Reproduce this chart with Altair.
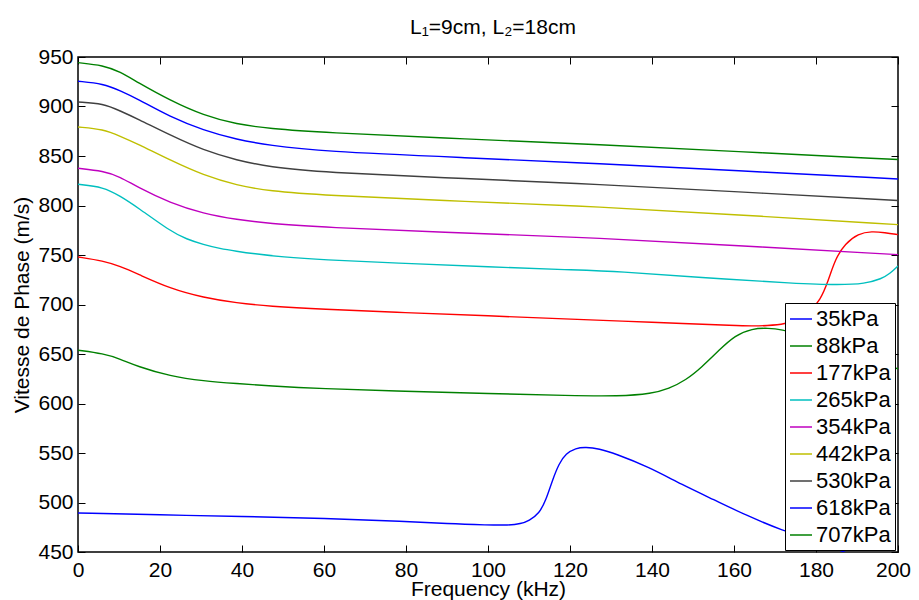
import altair as alt
import pandas as pd

FONT = "Liberation Sans, Arial, Helvetica, sans-serif"

series_names = ["35kPa", "88kPa", "177kPa", "265kPa", "354kPa", "442kPa", "530kPa", "618kPa", "707kPa"]
series_colors = ["#0000FF", "#008000", "#FF0000", "#00BFBF", "#BF00BF", "#BFBF00", "#404040", "#0000FF", "#008000"]

f_35 = [0, 20, 40, 60, 80, 90, 100, 105, 108, 110, 112.5, 114.1, 115.7, 117.3, 119, 121.4, 123.8, 127.1, 131, 139.2, 147.3, 155, 163, 171.6, 180, 185, 190]
v_35 = [489.4, 487.5, 486, 484, 481, 478.5, 477.3, 477, 478.5, 481.5, 489, 502, 522.4, 539.3, 549.4, 555, 556, 554.4, 549.4, 536, 518, 503, 487, 472, 461, 453, 445]

f_88 = [0, 6.2, 10.3, 14.4, 22.5, 30.6, 38.7, 46.8, 59, 80, 100, 120, 132, 140, 144.1, 148.2, 152.2, 156.3, 160.3, 164.4, 168.4, 171.7, 176, 180, 185, 190, 195, 200]
v_88 = [653.8, 650.4, 645, 637.6, 627.5, 622.7, 620.1, 617.7, 615, 612.3, 610.1, 607.9, 607.3, 610, 615, 623.4, 636.9, 653.7, 668.9, 675.7, 676.3, 674.6, 670, 664, 656, 648, 641, 635]

f_177 = [0, 6.2, 10.3, 14.4, 22.5, 30.6, 38.7, 46.8, 59, 80, 100, 120, 132, 148.2, 160, 164.4, 168, 172.5, 176, 178.5, 181, 183, 184.7, 187.1, 190.3, 193.6, 196.8, 200]
v_177 = [748, 744, 738.5, 731.2, 716, 707, 701.5, 698.2, 695.2, 691.8, 688.6, 685.3, 683.3, 680.7, 678.8, 678.3, 678.6, 680, 686, 693, 704, 724, 746, 761.5, 771.6, 774, 772.6, 770.6]

f_265 = [0, 6.2, 10.3, 14.4, 22.5, 26.5, 30.6, 34.6, 38.7, 42.7, 50, 59, 80, 100, 120, 132, 151.4, 175.7, 185.5, 192, 196, 198, 200]
v_265 = [821.4, 818.7, 809.5, 798.5, 774, 766, 760.5, 756.5, 753.8, 751.4, 748, 745.2, 741.5, 738, 735, 733.5, 727.2, 721.1, 719.7, 721, 726, 731, 739]

f_std = [0, 6.2, 10.3, 14.4, 22.5, 30.6, 38.7, 46.8, 59, 95, 127.1, 160, 200]
v_354 = [837.6, 834.8, 829, 818.7, 802.5, 791.8, 785.8, 781.7, 778.0, 772.1, 767.2, 759.6, 750.4]
v_442 = [879.3, 877, 870, 862.5, 845.7, 830.5, 820.4, 814.6, 810.5, 804, 798.8, 790.8, 780.7]
v_530 = [904.5, 903, 895.5, 887.8, 871, 855.8, 845.7, 838.9, 833.6, 827.1, 821.4, 814, 805]
v_618 = [925.5, 923, 916, 908, 889.4, 876, 866.6, 860.8, 854.7, 848.2, 842.3, 835.3, 826.8]
v_707 = [944.3, 941.6, 935, 924.7, 906, 891, 882, 877.7, 873.8, 867.1, 861.5, 854.7, 846.4]

x_ticks = [0, 20, 40, 60, 80, 100, 120, 140, 160, 180, 200]
y_ticks = [450, 500, 550, 600, 650, 700, 750, 800, 850, 900, 950]

series_data = [
    ("35kPa", f_35, v_35),
    ("88kPa", f_88, v_88),
    ("177kPa", f_177, v_177),
    ("265kPa", f_265, v_265),
    ("354kPa", f_std, v_354),
    ("442kPa", f_std, v_442),
    ("530kPa", f_std, v_530),
    ("618kPa", f_std, v_618),
    ("707kPa", f_std, v_707),
]

rows = []
for name, fs, vs in series_data:
    for i, (f, v) in enumerate(zip(fs, vs)):
        rows.append({"series": name, "f": f, "v": v, "i": i})
df = pd.DataFrame(rows)

xscale = alt.Scale(domain=[0, 200], nice=False, zero=False)
yscale = alt.Scale(domain=[450, 950], nice=False, zero=False)

lines = alt.Chart(df).mark_line(strokeWidth=1.4, clip=True, interpolate="basis").encode(
    x=alt.X("f:Q", scale=xscale,
            axis=alt.Axis(values=x_ticks, title="Frequency (kHz)", offset=-7, tickSize=7,
                          domain=False, grid=False, labelPadding=7, labelFlush=False,
                          labelOverlap=False, titleY=50, titleBaseline="alphabetic",
                          labelOffset={"condition": {"test": "datum.value == 200", "value": -5}, "value": 0},
                          format="d", minExtent=0)),
    y=alt.Y("v:Q", scale=yscale,
            axis=alt.Axis(values=y_ticks, title="Vitesse de Phase (m/s)", offset=-7, tickSize=7,
                          domain=False, grid=False, labelPadding=5, labelFlush=False,
                          labelOverlap=False, titleX=-57, titleBaseline="alphabetic",
                          titleAngle=-90, format="d", minExtent=0)),
    color=alt.Color("series:N",
                    scale=alt.Scale(domain=series_names, range=series_colors),
                    sort=series_names,
                    legend=alt.Legend(title=None, orient="none", legendX=707, legendY=246,
                                      strokeColor="black", fillColor="white", padding=4,
                                      symbolType="stroke", symbolSize=484, symbolStrokeWidth=1.5,
                                      labelFontSize=22, labelFont=FONT, labelColor="black",
                                      labelOffset=3, rowPadding=4, labelLimit=200)),
    detail="series:N",
    order="i:Q",
)

frame = alt.Chart(df).mark_line(strokeOpacity=0, clip=True).encode(
    x=alt.X("f:Q", scale=xscale,
            axis=alt.Axis(orient="top", values=x_ticks, labels=False, title=None, offset=-7,
                          tickSize=7, domain=False, grid=False, minExtent=0, maxExtent=0)),
    y=alt.Y("v:Q", scale=yscale,
            axis=alt.Axis(orient="right", values=y_ticks, labels=False, title=None, offset=-7,
                          tickSize=7, domain=False, grid=False, minExtent=0, maxExtent=0)),
    detail="series:N",
)

chart = alt.layer(lines, frame).resolve_axis(x="independent", y="independent").properties(
    width=820,
    height=495,
    background="white",
    title=alt.TitleParams("L\u2081=9cm, L\u2082=18cm", fontSize=21, fontWeight="normal", font=FONT,
                          color="black", anchor="middle", frame="group", offset=16, dy=25, dx=5,
                          baseline="alphabetic"),
    autosize=alt.AutoSizeParams(type="none"),
    padding={"left": 70, "top": 49, "right": 13, "bottom": 48},
).configure_view(
    stroke="black", strokeWidth=1.5
).configure_axis(
    labelFont=FONT, titleFont=FONT, labelFontSize=21, titleFontSize=21,
    labelColor="black", titleColor="black", tickColor="black", tickWidth=1,
    titleFontWeight="normal"
)

chart.save("out.html", embed_options={"renderer": "svg", "actions": False})
